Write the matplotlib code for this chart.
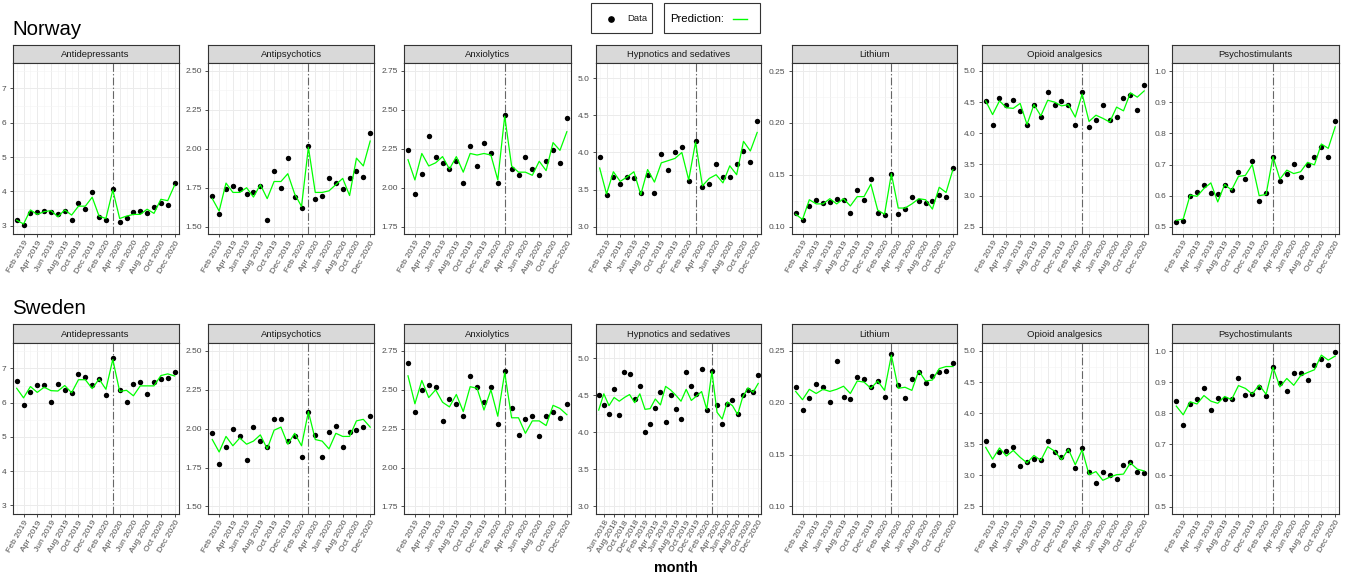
import numpy as np
import pandas as pd
import matplotlib
matplotlib.use('Agg')
import matplotlib.pyplot as plt
from matplotlib.lines import Line2D
from matplotlib.patches import Rectangle

plt.rcParams['font.family'] = ['Liberation Sans', 'DejaVu Sans']

W, H = 1349, 577

# ---- data ----
months = pd.date_range('2019-01-01', '2020-12-01', freq='MS')
months_se_hyp = pd.date_range('2018-05-01', '2020-12-01', freq='MS')
intervention = pd.Timestamp('2020-03-01')

drugs = ['Antidepressants', 'Antipsychotics', 'Anxiolytics', 'Hypnotics and sedatives',
         'Lithium', 'Opioid analgesics', 'Psychostimulants']
countries = ['Norway', 'Sweden']

# Norway
no_antidep_obs = [3.17, 3.02, 3.38, 3.41, 3.44, 3.41, 3.33, 3.43, 3.17, 3.65, 3.50, 3.97,
                  3.24, 3.17, 4.08, 3.10, 3.22, 3.41, 3.42, 3.38, 3.55, 3.66, 3.59, 4.24]
no_antidep_pred = [3.16, 3.05, 3.46, 3.33, 3.41, 3.44, 3.26, 3.46, 3.31, 3.57, 3.57, 3.83,
                   3.28, 3.21, 4.04, 3.21, 3.28, 3.33, 3.33, 3.48, 3.36, 3.77, 3.73, 4.18]
no_antipsy_obs = [1.70, 1.58, 1.74, 1.76, 1.74, 1.71, 1.72, 1.76, 1.54, 1.86, 1.75, 1.94,
                  1.69, 1.62, 2.02, 1.68, 1.70, 1.81, 1.78, 1.74, 1.81, 1.86, 1.82, 2.10]
no_antipsy_pred = [1.68, 1.60, 1.78, 1.72, 1.72, 1.75, 1.69, 1.77, 1.68, 1.79, 1.79, 1.84,
                   1.71, 1.63, 2.01, 1.72, 1.72, 1.73, 1.77, 1.81, 1.70, 1.94, 1.89, 2.05]
no_anxio_obs = [2.24, 1.96, 2.09, 2.33, 2.20, 2.16, 2.12, 2.17, 2.03, 2.27, 2.14, 2.29,
                2.22, 2.03, 2.47, 2.12, 2.08, 2.20, 2.12, 2.08, 2.17, 2.24, 2.16, 2.45]
no_anxio_pred = [2.18, 2.05, 2.22, 2.14, 2.16, 2.20, 2.12, 2.20, 2.10, 2.22, 2.21, 2.22,
                 2.21, 2.05, 2.46, 2.14, 2.10, 2.10, 2.08, 2.17, 2.11, 2.29, 2.24, 2.36]
no_hypn_obs = [3.94, 3.42, 3.67, 3.58, 3.67, 3.66, 3.45, 3.70, 3.46, 3.98, 3.76, 4.01,
               4.07, 3.62, 4.15, 3.53, 3.58, 3.85, 3.67, 3.67, 3.84, 4.02, 3.87, 4.43]
no_hypn_pred = [3.79, 3.44, 3.74, 3.61, 3.67, 3.74, 3.43, 3.77, 3.60, 3.86, 3.89, 3.92,
                4.00, 3.63, 4.14, 3.55, 3.65, 3.70, 3.59, 3.82, 3.70, 4.15, 4.02, 4.27]
no_lith_obs = [0.113, 0.106, 0.120, 0.126, 0.123, 0.124, 0.127, 0.126, 0.113, 0.135, 0.126, 0.146,
               0.113, 0.111, 0.151, 0.112, 0.117, 0.129, 0.125, 0.123, 0.125, 0.131, 0.129, 0.157]
no_lith_pred = [0.112, 0.107, 0.126, 0.122, 0.122, 0.127, 0.122, 0.127, 0.120, 0.129, 0.129, 0.141,
                0.116, 0.112, 0.151, 0.118, 0.118, 0.122, 0.127, 0.126, 0.117, 0.138, 0.133, 0.155]
no_opio_obs = [4.52, 4.14, 4.57, 4.45, 4.54, 4.35, 4.14, 4.46, 4.26, 4.66, 4.45, 4.52,
               4.46, 4.14, 4.66, 4.10, 4.22, 4.46, 4.22, 4.26, 4.56, 4.62, 4.38, 4.78]
no_opio_pred = [4.52, 4.30, 4.52, 4.41, 4.40, 4.48, 4.14, 4.46, 4.28, 4.53, 4.50, 4.44,
                4.46, 4.26, 4.63, 4.19, 4.29, 4.24, 4.18, 4.42, 4.36, 4.65, 4.58, 4.68]
no_psych_obs = [0.515, 0.518, 0.600, 0.613, 0.634, 0.610, 0.607, 0.633, 0.619, 0.676, 0.652, 0.710,
                0.582, 0.609, 0.725, 0.648, 0.670, 0.703, 0.661, 0.700, 0.723, 0.757, 0.723, 0.840]
no_psych_pred = [0.521, 0.525, 0.602, 0.598, 0.623, 0.641, 0.580, 0.636, 0.618, 0.662, 0.665, 0.700,
                 0.600, 0.604, 0.725, 0.653, 0.682, 0.671, 0.677, 0.707, 0.699, 0.766, 0.752, 0.821]

# Sweden
se_antidep_obs = [6.64, 5.92, 6.31, 6.52, 6.52, 6.01, 6.55, 6.37, 6.27, 6.83, 6.76, 6.51,
                  6.69, 6.21, 7.30, 6.38, 6.02, 6.55, 6.61, 6.26, 6.61, 6.69, 6.72, 6.89]
se_antidep_pred = [6.42, 6.14, 6.47, 6.30, 6.45, 6.35, 6.34, 6.50, 6.29, 6.67, 6.67, 6.41,
                   6.69, 6.39, 7.26, 6.33, 6.36, 6.20, 6.49, 6.49, 6.49, 6.79, 6.84, 6.78]
se_antipsy_obs = [1.97, 1.77, 1.88, 2.00, 1.95, 1.80, 2.01, 1.92, 1.88, 2.06, 2.06, 1.92,
                  1.95, 1.82, 2.11, 1.96, 1.82, 1.98, 2.02, 1.88, 1.98, 1.99, 2.01, 2.08]
se_antipsy_pred = [1.93, 1.85, 1.95, 1.89, 1.94, 1.90, 1.92, 1.96, 1.87, 1.99, 2.01, 1.90,
                   1.97, 1.89, 2.11, 1.93, 1.92, 1.87, 1.97, 1.95, 1.95, 2.05, 2.06, 2.01]
se_anxio_obs = [2.67, 2.36, 2.50, 2.53, 2.52, 2.30, 2.44, 2.41, 2.33, 2.59, 2.52, 2.42,
                2.52, 2.28, 2.62, 2.38, 2.21, 2.31, 2.33, 2.20, 2.33, 2.36, 2.32, 2.41]
se_anxio_pred = [2.59, 2.41, 2.56, 2.45, 2.50, 2.42, 2.39, 2.47, 2.36, 2.52, 2.51, 2.37,
                 2.50, 2.33, 2.61, 2.32, 2.32, 2.22, 2.30, 2.30, 2.27, 2.40, 2.38, 2.34]
se_hypn_obs = [4.51, 4.37, 4.25, 4.58, 4.24, 4.81, 4.79, 4.45, 4.62, 4.00, 4.11, 4.33,
               4.54, 4.14, 4.51, 4.32, 4.18, 4.82, 4.63, 4.52, 4.86, 4.30, 4.83, 4.37,
               4.11, 4.38, 4.44, 4.25, 4.51, 4.57, 4.54, 4.77]
se_hypn_pred = [4.30, 4.52, 4.36, 4.47, 4.42, 4.47, 4.51, 4.40, 4.52, 4.31, 4.32, 4.45,
                4.37, 4.62, 4.57, 4.50, 4.42, 4.58, 4.43, 4.49, 4.55, 4.31, 4.82, 4.27,
                4.18, 4.41, 4.36, 4.24, 4.48, 4.60, 4.54, 4.66]
se_lith_obs = [0.215, 0.193, 0.205, 0.218, 0.215, 0.201, 0.240, 0.206, 0.204, 0.225, 0.223, 0.215,
               0.221, 0.206, 0.247, 0.217, 0.205, 0.223, 0.230, 0.219, 0.226, 0.230, 0.231, 0.238]
se_lith_pred = [0.211, 0.203, 0.213, 0.209, 0.213, 0.211, 0.213, 0.216, 0.209, 0.221, 0.220, 0.214,
                0.221, 0.212, 0.246, 0.214, 0.215, 0.212, 0.231, 0.221, 0.222, 0.233, 0.235, 0.235]
se_opio_obs = [3.55, 3.17, 3.37, 3.39, 3.46, 3.15, 3.22, 3.26, 3.25, 3.55, 3.38, 3.29,
               3.40, 3.12, 3.44, 3.05, 2.87, 3.05, 3.01, 2.94, 3.17, 3.22, 3.05, 3.04]
se_opio_pred = [3.45, 3.26, 3.44, 3.31, 3.40, 3.29, 3.20, 3.32, 3.24, 3.46, 3.39, 3.25,
                3.42, 3.17, 3.41, 3.01, 3.06, 2.92, 2.97, 3.01, 3.02, 3.20, 3.10, 3.07]
se_psych_obs = [0.838, 0.763, 0.831, 0.846, 0.881, 0.812, 0.850, 0.845, 0.846, 0.913, 0.859, 0.861,
                0.886, 0.857, 0.949, 0.896, 0.872, 0.928, 0.929, 0.907, 0.956, 0.976, 0.956, 0.996]
se_psych_pred = [0.823, 0.795, 0.837, 0.830, 0.857, 0.839, 0.832, 0.854, 0.844, 0.889, 0.880, 0.862,
                 0.891, 0.861, 0.948, 0.885, 0.912, 0.890, 0.921, 0.931, 0.940, 0.987, 0.971, 0.984]

# y-axis per drug class (shared by both countries)
y_limits = [(2.75, 7.75), (1.451, 2.553), (1.701, 2.803), (2.897, 5.21),
            (0.0927, 0.258), (2.378, 5.133), (0.476, 1.027)]
y_ticks = [[3, 4, 5, 6, 7], [1.50, 1.75, 2.00, 2.25, 2.50], [1.75, 2.00, 2.25, 2.50, 2.75],
           [3.0, 3.5, 4.0, 4.5, 5.0], [0.10, 0.15, 0.20, 0.25], [2.5, 3.0, 3.5, 4.0, 4.5, 5.0],
           [0.5, 0.6, 0.7, 0.8, 0.9, 1.0]]
y_fmt = ['{:.0f}', '{:.2f}', '{:.2f}', '{:.1f}', '{:.2f}', '{:.1f}', '{:.1f}']

series = {
    'Norway': [(no_antidep_obs, no_antidep_pred), (no_antipsy_obs, no_antipsy_pred),
               (no_anxio_obs, no_anxio_pred), (no_hypn_obs, no_hypn_pred),
               (no_lith_obs, no_lith_pred), (no_opio_obs, no_opio_pred),
               (no_psych_obs, no_psych_pred)],
    'Sweden': [(se_antidep_obs, se_antidep_pred), (se_antipsy_obs, se_antipsy_pred),
               (se_anxio_obs, se_anxio_pred), (se_hypn_obs, se_hypn_pred),
               (se_lith_obs, se_lith_pred), (se_opio_obs, se_opio_pred),
               (se_psych_obs, se_psych_pred)],
}

# ---- layout (pixels) ----
col_left = [12.7, 208.3, 404, 595.7, 791.7, 981.7, 1172.3]
col_right = [178.7, 374.3, 571, 761.3, 957, 1148.3, 1339.3]
rows = {'Norway': (45, 62.7, 234.3), 'Sweden': (324.3, 342.7, 514)}
title_base = {'Norway': 34.7, 'Sweden': 314.3}

BORDER = '#333333'
GRID = '#EBEBEB'
TXT = '#4D4D4D'


def px_axes(fig, left, top, right, bottom):
    return fig.add_axes([left / W, 1 - bottom / H, (right - left) / W, (bottom - top) / H])


def month_index(dates):
    d = pd.DatetimeIndex(dates)
    return (d.year - 2019) * 12 + d.month - 1


fig = plt.figure(figsize=(W / 100, H / 100), dpi=100)

for country in countries:
    s_top, p_top, p_bot = rows[country]
    fig.text(12.5 / W, 1 - title_base[country] / H, country, fontsize=14.7,
             color='black', va='baseline', ha='left')
    for j, drug in enumerate(drugs):
        obs, pred = series[country][j]
        if country == 'Sweden' and drug == 'Hypnotics and sedatives':
            dts = months_se_hyp
        else:
            dts = months
        x = month_index(dts)

        # strip
        sa = px_axes(fig, col_left[j], s_top, col_right[j], p_top)
        sa.set_facecolor('#D9D9D9')
        sa.set_xticks([]); sa.set_yticks([])
        for sp in sa.spines.values():
            sp.set_color(BORDER); sp.set_linewidth(0.8)
        sa.text(0.5, 0.47, drug, transform=sa.transAxes, ha='center', va='center',
                fontsize=6.8, color='#1A1A1A')

        ax = px_axes(fig, col_left[j], p_top, col_right[j], p_bot)
        ax.set_facecolor('white')

        # x axis: major every 2 months, minor in between
        even = dts[1].month % 2
        major = [k for k, d in zip(x, dts) if d.month % 2 == even]
        major_lab = [d.strftime('%b %Y') for d in dts if d.month % 2 == even]
        minor = [k for k, d in zip(x, dts) if d.month % 2 != even]
        ax.set_xticks(major)
        ax.set_xticklabels(major_lab, rotation=60, ha='right', va='top',
                           rotation_mode='anchor', fontsize=6.1, color=TXT)
        ax.set_xticks(minor, minor=True)
        ax.set_xlim(x[0] - 0.58, x[-1] + 0.6)

        yt = y_ticks[j]
        ax.set_yticks(yt)
        ax.set_yticklabels([y_fmt[j].format(v) for v in yt], fontsize=6.0, color=TXT)
        step = yt[1] - yt[0]
        ax.set_yticks([v + step / 2 for v in [yt[0] - step] + yt], minor=True)
        ax.set_ylim(*y_limits[j])

        ax.grid(True, which='major', color=GRID, lw=0.7, zorder=0)
        ax.grid(True, which='minor', color='#F4F4F4', lw=0.4, zorder=0)
        ax.set_axisbelow(True)
        ax.tick_params(which='major', length=2.2, width=0.6, color=BORDER, pad=2.2)
        ax.tick_params(which='minor', length=0)
        ax.tick_params(axis='x', pad=1.5)
        for sp in ax.spines.values():
            sp.set_color(BORDER); sp.set_linewidth(0.8)

        ax.axvline(month_index([intervention])[0], color='#666666', lw=0.8,
                   linestyle=(0, (7, 2, 1.2, 2)), zorder=2)
        ax.scatter(x, obs, s=15, color='black', zorder=3, linewidths=0)
        ax.plot(x, pred, color='#00FF00', lw=0.9, zorder=4)

# ---- legend (two boxes at top) ----
def fig_xy(px, py):
    return px / W, 1 - py / H

for (l, t, r, b) in [(591, 3.3, 652.3, 33.3), (664, 3.3, 760.3, 33.3)]:
    fx, fy = fig_xy(l, b)
    fig.patches.append(Rectangle((fx, fy), (r - l) / W, (b - t) / H, transform=fig.transFigure,
                                 facecolor='white', edgecolor='#333333', lw=0.8))
dx, dy = fig_xy(611.3, 18.5)
fig.lines.append(Line2D([dx], [dy], marker='o', ms=3.8, color='black', lw=0,
                        transform=fig.transFigure))
fig.text(*fig_xy(627, 18.5), 'Data', fontsize=6.8, va='center', ha='left', color='#1A1A1A')
fig.text(*fig_xy(670, 18.5), 'Prediction:', fontsize=8.2, va='center', ha='left', color='black')
l0, y0 = fig_xy(732.7, 18.5)
l1, _ = fig_xy(746.7, 18.5)
fig.lines.append(Line2D([l0, l1], [y0, y0], color='#00FF00', lw=1.0, transform=fig.transFigure))

fig.text(675.5 / W, 1 - 572.5 / H, 'month', fontsize=10.4, fontweight='bold',
         ha='center', va='baseline')

fig.savefig('out.png', dpi=100)
